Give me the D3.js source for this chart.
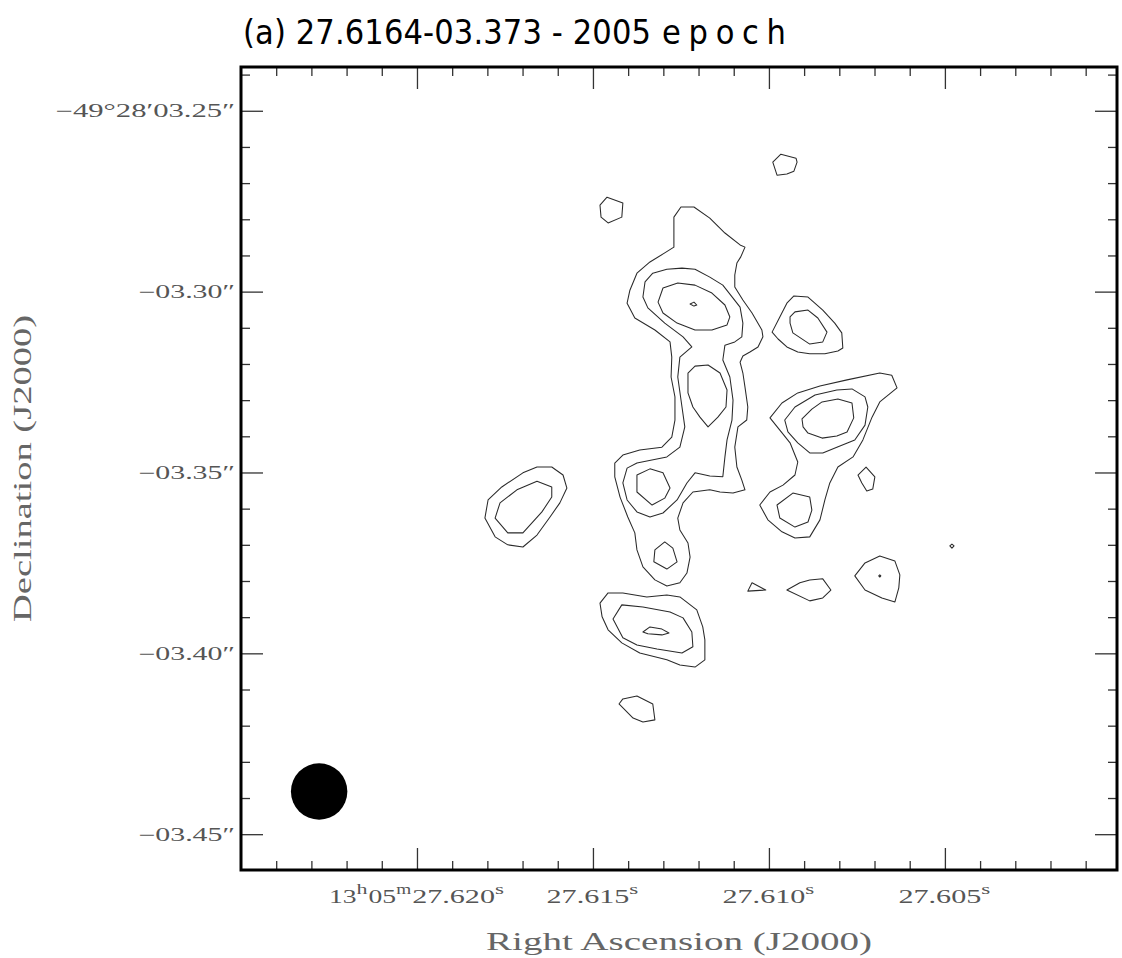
<!DOCTYPE html>
<html>
  <head>
    <meta charset="UTF-8" />
    <title>27.6164-03.373 - 2005 epoch</title>
    <script src="https://cdn.jsdelivr.net/npm/d3@7/dist/d3.min.js"></script>
    <style>
      body {
        margin: 0;
        background: #fff;
      }
      .tick-label {
        font-family: "Liberation Serif", "DejaVu Serif", serif;
        fill: #555;
      }
      .axis-title {
        font-family: "Liberation Serif", "DejaVu Serif", serif;
        fill: #666;
      }
      .title {
        font-family: "Liberation Sans Narrow", "DejaVu Sans Condensed", sans-serif;
        fill: #000;
      }
    </style>
  </head>
  <body>
    <div class="map"></div>

    <script>
      // axis ticks (RA in seconds of time, Dec in arcsec after -49d28')
      let raMajor = [27.62, 27.615, 27.61, 27.605];
      let raMinor = [
        27.624, 27.623, 27.622, 27.621, 27.619, 27.618, 27.617, 27.616,
        27.614, 27.613, 27.612, 27.611, 27.609, 27.608, 27.607, 27.606,
        27.604, 27.603, 27.602, 27.601,
      ];
      let raLabels = ["13h05m27.620s", "27.615s", "27.610s", "27.605s"];
      let decMajor = [-3.25, -3.3, -3.35, -3.4, -3.45];
      let decMinor = [
        -3.24, -3.26, -3.27, -3.28, -3.29, -3.31, -3.32, -3.33, -3.34,
        -3.36, -3.37, -3.38, -3.39, -3.41, -3.42, -3.43, -3.44,
      ];
      let decLabels = ["−49°28′03.25″", "−03.30″", "−03.35″", "−03.40″", "−03.45″"];

      // restoring beam [ra, dec] and diameter in arcsec
      let beamCentre = [27.62278, -3.4382];
      let beamSize = 0.0156;

      // contours, [ra, dec] vertices
      let blobNorth = [
        [27.60989, -3.2642], [27.60966, -3.262], [27.60923, -3.2631], [27.6092, -3.2642],
        [27.60929, -3.2667], [27.60949, -3.2675], [27.60977, -3.2678],
      ];
      let blobNorthWest = [
        [27.6148, -3.2761], [27.6146, -3.2739], [27.61415, -3.2755],
        [27.61418, -3.2794], [27.61457, -3.281], [27.61477, -3.2794],
      ];
      let coreOuter = [
        [27.6125, -3.2766], [27.61213, -3.2766], [27.61168, -3.2797], [27.61125, -3.2838],
        [27.61082, -3.2871], [27.61068, -3.2877], [27.6108, -3.2904], [27.61091, -3.2921],
        [27.61097, -3.2954], [27.61097, -3.2987], [27.61074, -3.3023], [27.61048, -3.3059],
        [27.6102, -3.3106], [27.61017, -3.3125], [27.61031, -3.3153], [27.61054, -3.3167],
        [27.61074, -3.3178], [27.61082, -3.3195], [27.61074, -3.3225], [27.61068, -3.3264],
        [27.6106, -3.3319], [27.61063, -3.3355], [27.61088, -3.3374], [27.61097, -3.343],
        [27.61091, -3.3485], [27.61077, -3.3521], [27.61068, -3.3548], [27.61102, -3.3557],
        [27.61139, -3.3554], [27.61168, -3.3548], [27.61216, -3.3554], [27.61244, -3.3584],
        [27.61259, -3.3626], [27.61253, -3.3659], [27.6123, -3.3695], [27.61224, -3.3734],
        [27.61233, -3.3778], [27.61253, -3.3805], [27.6129, -3.3814], [27.61324, -3.3797],
        [27.61358, -3.3761], [27.61375, -3.3714], [27.61381, -3.3667], [27.61401, -3.3623],
        [27.61423, -3.3568], [27.61438, -3.3512], [27.61438, -3.3474], [27.61415, -3.3452],
        [27.61367, -3.3438], [27.61304, -3.343], [27.61276, -3.3402], [27.61267, -3.3355],
        [27.61267, -3.3291], [27.61278, -3.3236], [27.61276, -3.3181], [27.61281, -3.3139],
        [27.61324, -3.3106], [27.61381, -3.3073], [27.61403, -3.3032], [27.61395, -3.2996],
        [27.61375, -3.2949], [27.61338, -3.2918], [27.61296, -3.2893], [27.6127, -3.2877],
        [27.6127, -3.283], [27.6127, -3.2794],
      ];
      let coreMiddle = [
        [27.61352, -3.2973], [27.6133, -3.2949], [27.6129, -3.2938], [27.61247, -3.2935],
        [27.6121, -3.2938], [27.61168, -3.296], [27.61131, -3.2982], [27.61102, -3.3018],
        [27.61082, -3.3043], [27.61074, -3.3087], [27.61077, -3.3125], [27.61097, -3.3139],
        [27.61125, -3.3148], [27.61131, -3.3189], [27.61111, -3.3236], [27.61102, -3.33],
        [27.61105, -3.3355], [27.61119, -3.341], [27.61125, -3.3457], [27.61131, -3.3512],
        [27.61168, -3.351], [27.6121, -3.3501], [27.61233, -3.3529], [27.61261, -3.3576],
        [27.61301, -3.3612], [27.61338, -3.3623], [27.61375, -3.3609], [27.61403, -3.3576],
        [27.61415, -3.3529], [27.61403, -3.3488], [27.61375, -3.3474], [27.6129, -3.3457],
        [27.61253, -3.343], [27.61239, -3.3374], [27.61247, -3.3319], [27.61259, -3.3236],
        [27.61253, -3.3181], [27.61219, -3.3153], [27.61244, -3.3125], [27.61296, -3.3087],
        [27.61344, -3.3045], [27.61358, -3.3015],
      ];
      let coreTopInner = [
        [27.61315, -3.3029], [27.61301, -3.299], [27.61259, -3.2976], [27.6121, -3.2982],
        [27.61162, -3.3004], [27.61125, -3.3037], [27.61111, -3.307], [27.61119, -3.3092],
        [27.61162, -3.3106], [27.6121, -3.3106], [27.61261, -3.3087], [27.61301, -3.3059],
      ];
      let coreTopPeak = [
        [27.61224, -3.3034], [27.61213, -3.3029], [27.61205, -3.3037], [27.61213, -3.304],
      ];
      let coreMidInner = [
        [27.6123, -3.3225], [27.6121, -3.3206], [27.61173, -3.3203], [27.61139, -3.3225],
        [27.61119, -3.3272], [27.61122, -3.3319], [27.61145, -3.3347], [27.61173, -3.3374],
        [27.61196, -3.3347], [27.61216, -3.3319], [27.6123, -3.328],
      ];
      let coreLowInner = [
        [27.61375, -3.3507], [27.61338, -3.349], [27.61301, -3.3501], [27.61281, -3.3543],
        [27.61296, -3.3571], [27.61332, -3.359], [27.61375, -3.3554],
      ];
      let coreTailInner = [
        [27.61324, -3.3714], [27.61296, -3.3692], [27.61273, -3.3709],
        [27.61261, -3.3747], [27.6129, -3.3767], [27.61327, -3.3747],
      ];
      let eastOuter = [
        [27.60991, -3.3112], [27.60969, -3.307], [27.60949, -3.3032], [27.60929, -3.3012],
        [27.60889, -3.3015], [27.60847, -3.3051], [27.60813, -3.3087], [27.60793, -3.3114],
        [27.6079, -3.3156], [27.60804, -3.3164], [27.60841, -3.3172], [27.60884, -3.3172],
        [27.60918, -3.3167], [27.60949, -3.3153], [27.60974, -3.3131],
      ];
      let eastInner = [
        [27.6094, -3.307], [27.60926, -3.3056], [27.60889, -3.3051], [27.60861, -3.3073],
        [27.60835, -3.3112], [27.60847, -3.3139], [27.60884, -3.3145], [27.60932, -3.3114],
        [27.6094, -3.3087],
      ];
      let southEastOuter = [
        [27.60997, -3.3349], [27.60963, -3.3308], [27.60918, -3.328], [27.60855, -3.3261],
        [27.60778, -3.3244], [27.60685, -3.3225], [27.60651, -3.3231], [27.60636, -3.3266],
        [27.60685, -3.3305], [27.60707, -3.3347], [27.60733, -3.341], [27.60761, -3.3457],
        [27.60804, -3.3485], [27.60827, -3.3529], [27.60841, -3.3576], [27.60855, -3.3631],
        [27.60884, -3.3678], [27.60926, -3.3681], [27.60963, -3.3664], [27.61003, -3.3631],
        [27.61026, -3.359], [27.60997, -3.3554], [27.6096, -3.3535], [27.60926, -3.3507],
        [27.60918, -3.3471], [27.6094, -3.3418], [27.60969, -3.3383],
      ];
      let southEastMiddle = [
        [27.60955, -3.3355], [27.60926, -3.3319], [27.60869, -3.3286], [27.60807, -3.3272],
        [27.60764, -3.3269], [27.60727, -3.3291], [27.60719, -3.3319], [27.60727, -3.3369],
        [27.60756, -3.341], [27.60807, -3.343], [27.60847, -3.3446], [27.60884, -3.3446],
        [27.60918, -3.3418], [27.60946, -3.3388],
      ];
      let southEastInner = [
        [27.60906, -3.3352], [27.60878, -3.3325], [27.60849, -3.3305], [27.60804, -3.3297],
        [27.60764, -3.3308], [27.60759, -3.3349], [27.60778, -3.3388], [27.60807, -3.3399],
        [27.60849, -3.3405], [27.60889, -3.3391], [27.60903, -3.3374],
      ];
      let southEastLowInner = [
        [27.60977, -3.359], [27.60932, -3.3557], [27.60884, -3.3568], [27.60878, -3.3604],
        [27.60889, -3.3637], [27.60926, -3.3651], [27.60969, -3.3626],
      ];
      let southEastSpot = [
        [27.60747, -3.3507], [27.60724, -3.3485], [27.60699, -3.3512],
        [27.60705, -3.3546], [27.60722, -3.3551], [27.60736, -3.3529],
      ];
      let westOuter = [
        [27.61807, -3.3626], [27.61798, -3.3576], [27.61759, -3.354], [27.61699, -3.3501],
        [27.61659, -3.3485], [27.61617, -3.3485], [27.61585, -3.3507], [27.61574, -3.3543],
        [27.61594, -3.3584], [27.61622, -3.3623], [27.61659, -3.3673], [27.61699, -3.3706],
        [27.61742, -3.37], [27.61778, -3.3678],
      ];
      let westInner = [
        [27.61778, -3.3626], [27.61764, -3.3584], [27.61716, -3.3548], [27.61659, -3.3524],
        [27.61617, -3.354], [27.61617, -3.3568], [27.61645, -3.3609], [27.61699, -3.3667],
        [27.61742, -3.3667],
      ];
      let southOuter = [
        [27.6148, -3.3861], [27.61457, -3.3833], [27.61415, -3.3833], [27.61347, -3.3844],
        [27.6129, -3.3839], [27.61253, -3.3844], [27.61205, -3.388], [27.61188, -3.3927],
        [27.61182, -3.3963], [27.61182, -3.4018], [27.6121, -3.4038], [27.61253, -3.4032],
        [27.6129, -3.4018], [27.61367, -3.3999], [27.61418, -3.3971], [27.61457, -3.3935],
        [27.61474, -3.3899],
      ];
      let southMiddle = [
        [27.61443, -3.3905], [27.61418, -3.3866], [27.61358, -3.3872], [27.61281, -3.3886],
        [27.61244, -3.3902], [27.61219, -3.3941], [27.61216, -3.3982], [27.61247, -3.3999],
        [27.61318, -3.3988], [27.61375, -3.3977], [27.61415, -3.3957],
      ];
      let southInner = [
        [27.61358, -3.3941], [27.61338, -3.3927], [27.61304, -3.3933],
        [27.61284, -3.3944], [27.61304, -3.3949], [27.61344, -3.3946],
      ];
      let southSpot = [
        [27.61426, -3.414], [27.61415, -3.4126], [27.61375, -3.4118], [27.6133, -3.414],
        [27.61324, -3.4184], [27.61358, -3.419], [27.61386, -3.4179],
      ];
      let spotA = [[27.6106, -3.3828], [27.61048, -3.3805], [27.61009, -3.3825]];
      let spotB = [
        [27.60949, -3.3825], [27.60912, -3.3805], [27.60884, -3.3797], [27.60847, -3.3794],
        [27.60824, -3.3825], [27.60847, -3.3847], [27.60884, -3.3855],
      ];
      let spotC = [
        [27.60756, -3.3786], [27.60727, -3.375], [27.60685, -3.3731], [27.60642, -3.3745],
        [27.60628, -3.3783], [27.60631, -3.3819], [27.60642, -3.3858], [27.60679, -3.3847],
        [27.60727, -3.3825],
      ];
      let spotCPeak = [[27.60688, -3.3786], [27.60685, -3.3783], [27.60682, -3.3786], [27.60685, -3.3789]];
      let spotD = [[27.60486, -3.3703], [27.6048, -3.3698], [27.60474, -3.3703], [27.6048, -3.3709]];

      let contours = [
        blobNorth, blobNorthWest, coreOuter, coreMiddle, coreTopInner, coreTopPeak,
        coreMidInner, coreLowInner, coreTailInner, eastOuter, eastInner,
        southEastOuter, southEastMiddle, southEastInner, southEastLowInner, southEastSpot,
        westOuter, westInner, southOuter, southMiddle, southInner, southSpot,
        spotA, spotB, spotC, spotCPeak, spotD,
      ];

      // layout
      let width = 1122;
      let height = 958;
      let frame = { left: 241, right: 1117, top: 67, bottom: 870 };
      let charW = 13.8; // advance of one label character
      let supW = { h: 12, m: 16, s: 10 };

      let svg = d3
        .select(".map")
        .append("svg")
        .attr("width", width)
        .attr("height", height);

      svg.append("rect").attr("width", width).attr("height", height).attr("fill", "#fff");

      let x = d3
        .scaleLinear()
        .domain([27.625, 27.60011])
        .range([frame.left, frame.right]);

      let y = d3
        .scaleLinear()
        .domain([-3.2379, -3.4599])
        .range([frame.top, frame.bottom]);

      // contours
      let line = d3
        .line()
        .x((d) => x(d[0]))
        .y((d) => y(d[1]))
        .curve(d3.curveLinearClosed);

      svg
        .append("g")
        .selectAll("path")
        .data(contours)
        .enter()
        .append("path")
        .attr("d", line)
        .attr("fill", "none")
        .attr("stroke", "#2a2a2a")
        .attr("stroke-width", 1.05)
        .attr("stroke-linejoin", "round");

      // beam
      svg
        .append("circle")
        .attr("cx", x(beamCentre[0]))
        .attr("cy", y(beamCentre[1]))
        .attr("r", Math.abs(y(0) - y(beamSize)) / 2)
        .attr("fill", "#000");

      // ticks on all four sides, pointing inwards
      let major = 22;
      let minor = 9;
      function ticks(axis, transform) {
        let g = svg.append("g").attr("transform", transform).call(axis);
        g.select(".domain").remove();
        g.selectAll(".tick line").attr("stroke", "#333").attr("stroke-width", 1.3);
      }
      let bx = `translate(0,${frame.bottom})`;
      let tx = `translate(0,${frame.top})`;
      let ly = `translate(${frame.left},0)`;
      let ry = `translate(${frame.right},0)`;
      ticks(d3.axisBottom(x).tickValues(raMajor).tickSize(-major).tickFormat(""), bx);
      ticks(d3.axisBottom(x).tickValues(raMinor).tickSize(-minor).tickFormat(""), bx);
      ticks(d3.axisTop(x).tickValues(raMajor).tickSize(-major).tickFormat(""), tx);
      ticks(d3.axisTop(x).tickValues(raMinor).tickSize(-minor).tickFormat(""), tx);
      ticks(d3.axisLeft(y).tickValues(decMajor).tickSize(-major).tickFormat(""), ly);
      ticks(d3.axisLeft(y).tickValues(decMinor).tickSize(-minor).tickFormat(""), ly);
      ticks(d3.axisRight(y).tickValues(decMajor).tickSize(-major).tickFormat(""), ry);
      ticks(d3.axisRight(y).tickValues(decMinor).tickSize(-minor).tickFormat(""), ry);

      // frame
      svg
        .append("rect")
        .attr("x", frame.left)
        .attr("y", frame.top)
        .attr("width", frame.right - frame.left)
        .attr("height", frame.bottom - frame.top)
        .attr("fill", "none")
        .attr("stroke", "#000")
        .attr("stroke-width", 3);

      // dec labels, stretched to the wide plotter lettering
      svg
        .append("g")
        .selectAll("text")
        .data(decMajor)
        .enter()
        .append("text")
        .attr("class", "tick-label")
        .attr("x", frame.left - 6)
        .attr("y", (d) => y(d))
        .attr("dy", "0.36em")
        .attr("text-anchor", "end")
        .attr("textLength", (d, i) => decLabels[i].length * charW)
        .attr("lengthAdjust", "spacingAndGlyphs")
        .style("font-size", "18px")
        .text((d, i) => decLabels[i]);

      // ra labels with superscript units
      let raGroup = svg.append("g");
      raMajor.forEach((d, i) => {
        let parts = raLabels[i].split(/([hms])/).filter((p) => p !== "");
        let widths = parts.map((p) => (supW[p] ? supW[p] : p.length * charW));
        let cx = x(d) - d3.sum(widths) / 2;
        parts.forEach((p, j) => {
          let sup = !!supW[p];
          raGroup
            .append("text")
            .attr("class", "tick-label")
            .attr("x", cx)
            .attr("y", frame.bottom + (sup ? 24 : 33))
            .attr("textLength", widths[j] - (sup ? 1 : 0))
            .attr("lengthAdjust", "spacingAndGlyphs")
            .style("font-size", sup ? "14px" : "18px")
            .text(p);
          cx += widths[j];
        });
      });

      // axis titles
      svg
        .append("text")
        .attr("class", "axis-title")
        .attr("x", (frame.left + frame.right) / 2)
        .attr("y", 950)
        .attr("text-anchor", "middle")
        .attr("textLength", 386)
        .attr("lengthAdjust", "spacingAndGlyphs")
        .style("font-size", "25px")
        .text("Right Ascension (J2000)");

      svg
        .append("text")
        .attr("class", "axis-title")
        .attr("transform", `translate(31,${(frame.top + frame.bottom) / 2}) rotate(-90)`)
        .attr("text-anchor", "middle")
        .attr("textLength", 307)
        .attr("lengthAdjust", "spacingAndGlyphs")
        .style("font-size", "25px")
        .text("Declination (J2000)");

      // title
      svg
        .append("text")
        .attr("class", "title")
        .attr("x", 243)
        .attr("y", 44)
        .attr("textLength", 408)
        .attr("lengthAdjust", "spacing")
        .style("font-size", "34px")
        .text("(a) 27.6164-03.373 - 2005");

      svg
        .append("text")
        .attr("class", "title")
        .attr("x", 662)
        .attr("y", 44)
        .attr("textLength", 124)
        .attr("lengthAdjust", "spacing")
        .style("font-size", "34px")
        .text("epoch");
    </script>
  </body>
</html>
